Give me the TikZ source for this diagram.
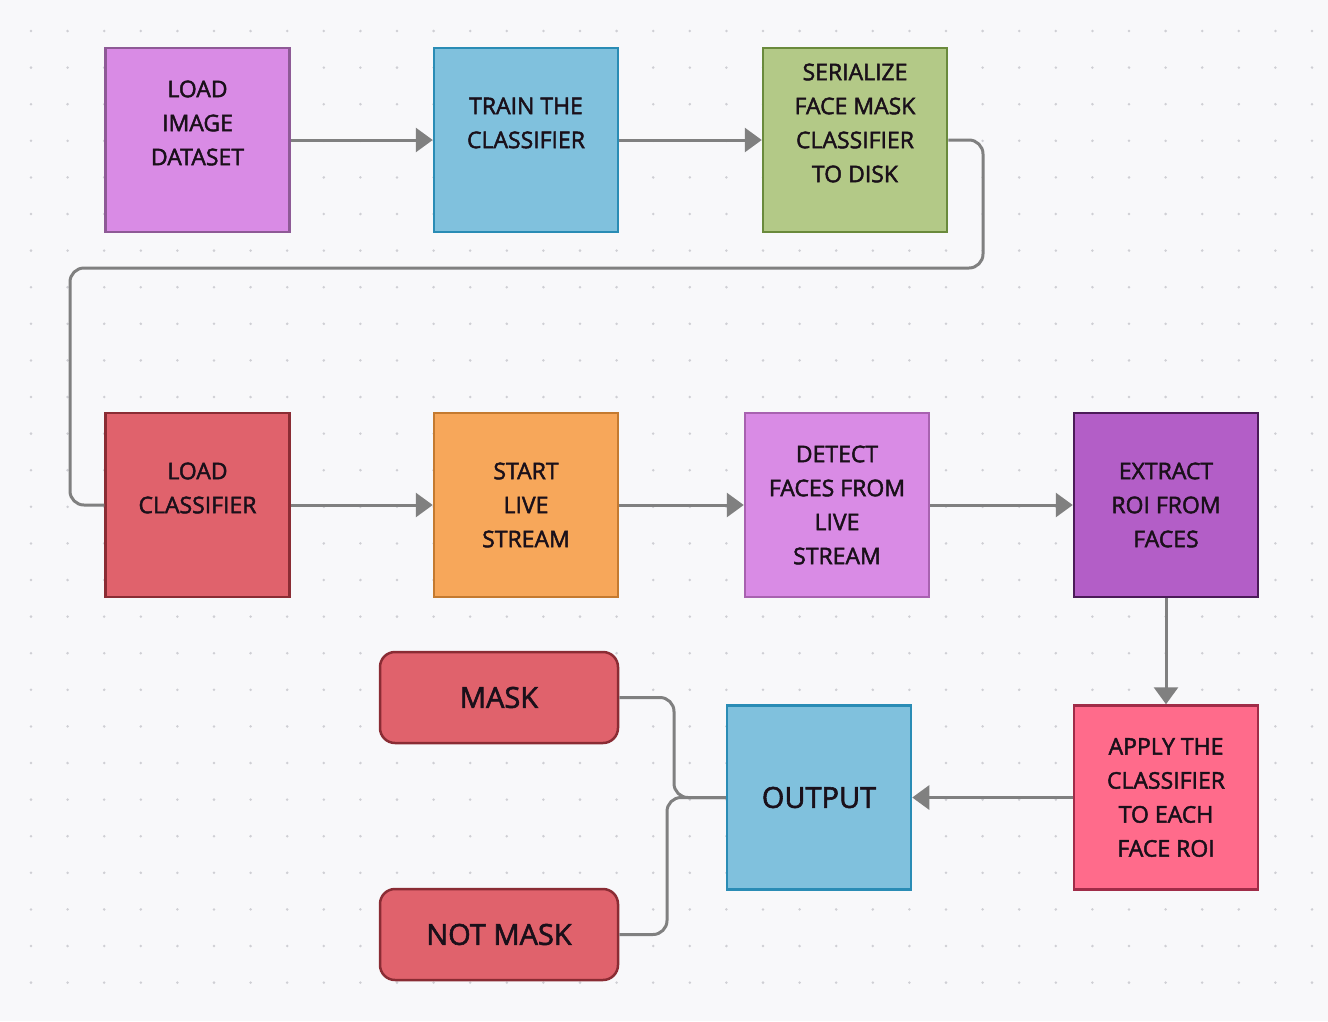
\documentclass[tikz,border=0pt]{standalone}
\usepackage{fontspec}
\setmainfont{Open Sans}
\newfontfamily\labelface{Open Sans}[FakeBold=2]
\usetikzlibrary{arrows.meta}

% box fills and outlines
\definecolor{bg}{HTML}{F8F8FA}
\definecolor{gdot}{HTML}{CFCFD4}
\definecolor{wire}{HTML}{808080}
\definecolor{txt}{HTML}{1A101A}
\definecolor{violetF}{HTML}{D98BE5}\definecolor{violetD}{HTML}{8E5A96}
\definecolor{violetD2}{HTML}{A862B0}
\definecolor{blueF}{HTML}{80C1DD}\definecolor{blueD}{HTML}{2A8CB5}
\definecolor{greenF}{HTML}{B3C987}\definecolor{greenD}{HTML}{6A8A3C}
\definecolor{redF}{HTML}{E0626C}\definecolor{redD}{HTML}{8A2C34}
\definecolor{orangeF}{HTML}{F7A75A}\definecolor{orangeD}{HTML}{C47A30}
\definecolor{purpleF}{HTML}{B35EC7}\definecolor{purpleD}{HTML}{4B1B58}
\definecolor{pinkF}{HTML}{FF6B8B}\definecolor{pinkD}{HTML}{A02C48}

\tikzset{
  stepbox/.style={draw, line width=2.5pt, minimum width=184pt, minimum height=184pt,
    inner sep=0pt, align=center, text=txt, font=\labelface\fontsize{23}{34}\selectfont},
  % caption set half a line above the box centre
  uptext/.style={label={[inner sep=0pt, yshift=17pt, align=center, text=txt,
    font=\labelface\fontsize{23}{34}\selectfont]center:#1}},
  resultbox/.style={draw, line width=2.5pt, rounded corners=15pt, minimum width=238pt,
    minimum height=91pt, inner sep=0pt, align=center, text=txt,
    font=\labelface\fontsize{29}{34}\selectfont},
  flow/.style={draw=wire, line width=3pt, -{Triangle[length=17pt,width=24pt]}},
  link/.style={draw=wire, line width=3pt, rounded corners=14pt},
}

\begin{document}
\begin{tikzpicture}[x=1pt, y=-1pt]
  % canvas and dotted grid
  \fill[bg] (0,0) rectangle (1328,1021);
  \useasboundingbox (0,0) rectangle (1328,1021);
  \foreach \i in {0,...,35} {
    \foreach \j in {0,...,26} {
      \fill[gdot] (31+36.6*\i, 31+36.6*\j) circle (1.4pt);
    }
  }

  % first row
  \node[stepbox, fill=violetF, draw=violetD, uptext={LOAD\\IMAGE\\DATASET}] (img) at (197.5,140) {};
  \node[stepbox, fill=blueF, draw=blueD, uptext={TRAIN THE\\CLASSIFIER}] (train) at (526,140) {};
  \node[stepbox, fill=greenF, draw=greenD, uptext={SERIALIZE\\FACE MASK\\CLASSIFIER\\TO DISK}] (ser) at (855,140) {};

  % second row
  \node[stepbox, fill=redF, draw=redD, uptext={LOAD\\CLASSIFIER}] (lcls) at (197.5,505) {};
  \node[stepbox, fill=orangeF, draw=orangeD] (start) at (526,505) {START\\LIVE\\STREAM};
  \node[stepbox, fill=violetF, draw=violetD2] (detect) at (837,505) {DETECT\\FACES FROM\\LIVE\\STREAM};
  \node[stepbox, fill=purpleF, draw=purpleD] (extract) at (1166,505) {EXTRACT\\ROI FROM\\FACES};

  % third row
  \node[stepbox, fill=pinkF, draw=pinkD] (apply) at (1166,797.5) {APPLY THE\\CLASSIFIER\\TO EACH\\FACE ROI};
  \node[stepbox, fill=blueF, draw=blueD, font=\labelface\fontsize{29}{34}\selectfont] (output) at (819,797.5) {OUTPUT};
  \node[resultbox, fill=redF, draw=redD] (mask) at (499,697.5) {MASK};
  \node[resultbox, fill=redF, draw=redD] (notmask) at (499,934.5) {NOT MASK};

  % waypoints
  \coordinate (loopR) at (983,268);
  \coordinate (loopL) at (70,268);
  \coordinate (mj) at (674,797.5);
  \coordinate (nj) at (667,797.5);

  % connectors
  \draw[flow] (img) -- (train);
  \draw[flow] (train) -- (ser);
  \draw[link] (ser.east) -| (loopR) -- (loopL) |- (lcls.west);
  \draw[flow] (lcls) -- (start);
  \draw[flow] (start) -- (detect);
  \draw[flow] (detect) -- (extract);
  \draw[flow] (extract) -- (apply);
  \draw[flow] (apply) -- (output);
  \draw[link] (mask.east) -| (mj) -- (output.west);
  \draw[link] (notmask.east) -| (nj) -- (output.west);
\end{tikzpicture}
\end{document}
